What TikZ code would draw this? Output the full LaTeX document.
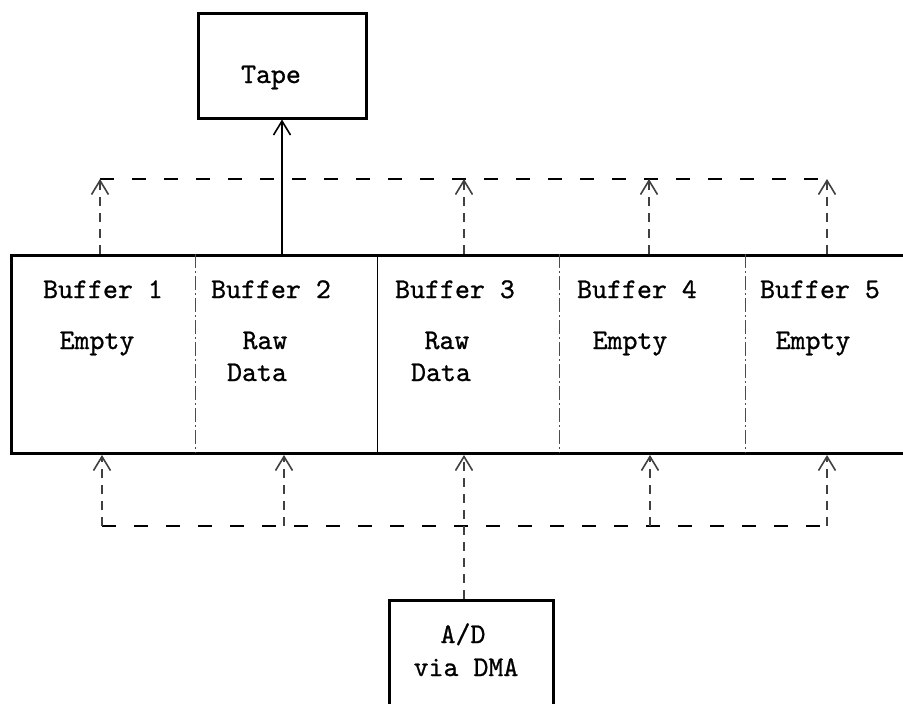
\documentclass[tikz,border=0pt]{standalone}
\usepackage{fontspec}
\newfontfamily\typewriter[FakeBold=0.8]{lmmono10-regular.otf}
\usetikzlibrary{arrows.meta}
\begin{document}
\begin{tikzpicture}[x=1pt,y=-1pt,
  frame/.style={draw, line width=3pt, inner sep=0pt},
  cell/.style={inner sep=0pt, minimum height=198pt, anchor=north west},
  txt/.style={font=\typewriter\fontsize{28.5}{34}\selectfont, inner sep=0pt, anchor=base},
  divider/.style={line width=1.3pt},
  faintdiv/.style={line width=1pt, black!70, dash pattern=on 14pt off 3pt on 2pt off 3pt},
  bus/.style={line width=2.6pt, dash pattern=on 14pt off 18pt},
  feed/.style={line width=1.1pt, black!75, dash pattern=on 9pt off 7pt,
    -{Straight Barb[length=14pt,width=17pt,line width=1.6pt]}},
  tapearrow/.style={line width=2.4pt, -{Straight Barb[length=14pt,width=17pt,line width=1.6pt]}}
]
\clip (0,0) rectangle (903,704);

% boxes
\node[frame, minimum width=168pt, minimum height=105pt] (tape) at (282,65.5) {};
\node[frame, minimum width=164pt, minimum height=160pt] (ad) at (471,680) {};
\node[frame, minimum width=930pt, minimum height=198pt, anchor=north west] (row) at (10,254) {};

% buffer cells
\node[cell, minimum width=185pt] (b1) at (10,254) {};
\node[cell, minimum width=182pt] (b2) at (195,254) {};
\node[cell, minimum width=182pt] (b3) at (377,254) {};
\node[cell, minimum width=186pt] (b4) at (559,254) {};
\node[cell, minimum width=158pt] (b5) at (745,254) {};

\draw[faintdiv] (b1.north east) -- (b1.south east);
\draw[divider]  (b2.north east) -- (b2.south east);
\draw[faintdiv] (b3.north east) -- (b3.south east);
\draw[faintdiv] (b4.north east) -- (b4.south east);

% labels
\node[txt] (tapelbl) at (271,83) {Tape};
\node[txt] (n1) at (103,298) {Buffer 1};
\node[txt] (s1) at (97,349) {Empty};
\node[txt] (n2) at (271,298) {Buffer 2};
\node[txt] (s2a) at (265,349) {Raw};
\node[txt] (s2b) at (257,381) {Data};
\node[txt] (n3) at (455,298) {Buffer 3};
\node[txt] (s3a) at (447,349) {Raw};
\node[txt] (s3b) at (441,381) {Data};
\node[txt] (n4) at (637,298) {Buffer 4};
\node[txt] (s4) at (630,349) {Empty};
\node[txt] (n5) at (820,298) {Buffer 5};
\node[txt] (s5) at (813,349) {Empty};
\node[txt] (ad1) at (463,643) {A/D};
\node[txt] (ad2) at (466,676) {via DMA};

% output side: buffers to tape
\coordinate (tl) at (100,179);
\coordinate (t3) at (464,179);
\coordinate (t4) at (649,179);
\coordinate (tr) at (827,179);
\draw[bus] (tl) -- (tr);
\draw[feed] (tl |- row.north) -- (tl);
\draw[feed] (t3 |- row.north) -- (t3);
\draw[feed] (t4 |- row.north) -- (t4);
\draw[feed] (tr |- row.north) -- (tr);
\draw[tapearrow] (tape.south |- row.north) -- (tape.south);

% input side: A/D into buffers
\coordinate (bl) at (102,526);
\coordinate (q2) at (284,526);
\coordinate (q4) at (650,526);
\coordinate (br) at (827,526);
\draw[bus] (bl) -- (br);
\draw[feed] (bl) -- (bl |- row.south);
\draw[feed] (q2) -- (q2 |- row.south);
\draw[feed] (q4) -- (q4 |- row.south);
\draw[feed] (br) -- (br |- row.south);
\draw[feed] (ad.north -| t3) -- (t3 |- row.south);
\end{tikzpicture}
\end{document}
